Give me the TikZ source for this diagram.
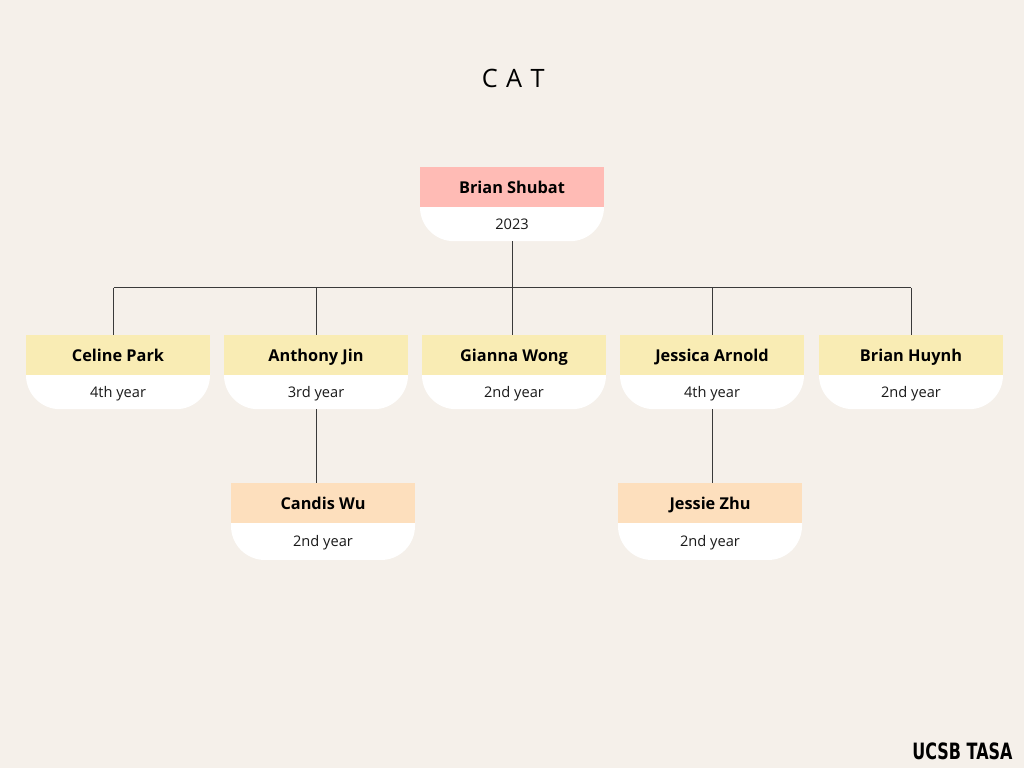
\documentclass[tikz,border=0pt]{standalone}
\usepackage{fontspec}
\setmainfont{Open Sans}
\usetikzlibrary{calc}
\definecolor{paper}{HTML}{F5F0EA}
\definecolor{rootpink}{HTML}{FFBBB5}
\definecolor{memberyellow}{HTML}{F9ECB4}
\definecolor{littleorange}{HTML}{FDDFBD}
\definecolor{linegray}{HTML}{3A3A3A}
\tikzset{
	headbox/.style={minimum width=4.6cm, minimum height=1cm, inner sep=0pt, outer sep=0pt, text height=0.31cm, text depth=0pt, font=\fontsize{11.6}{14}\selectfont\bfseries, text=black},
	yearbox/.style={anchor=north, minimum width=4.6cm, minimum height=#1, inner sep=0pt, outer sep=0pt, text height=0.27cm, text depth=0pt, font=\fontsize{10.4}{12}\selectfont, text=black!90},
	link/.style={draw=linegray, line width=0.7pt},
}
% #1 name, #2 x, #3 y of head centre, #4 colour, #5 body height, #6 title, #7 subtitle
\def\card#1(#2,#3)#4[#5]#6#7{
	\fill[white, rounded corners=0.85cm] ($(#2,#3)+(-2.3,0.4)$) -- ($(#2,#3)+(-2.3,{-0.5-#5})$) -- ($(#2,#3)+(2.3,{-0.5-#5})$) -- ($(#2,#3)+(2.3,0.4)$) -- cycle;
	\node[headbox, fill=#4] (#1) at (#2,#3) {#6};
	\node[yearbox={#5 cm}] (#1year) at (#1.south) {#7};
}

\begin{document}
\begin{tikzpicture}
		%%%%% START %%%%%
		\useasboundingbox[fill=paper] (0, 0) rectangle (25.6, 19.2);
		
		\node[font=\fontsize{18}{22}\selectfont] (title) at (12.83, 17.25) {C\,\,A\,\,T};
		
		\card{shubat}(12.8, 14.52){rootpink}[0.85]{Brian Shubat}{2023}
		
		\card{celine}(2.95, 10.32){memberyellow}[0.85]{Celine Park}{4th year}
		\card{anthony}(7.9, 10.32){memberyellow}[0.85]{Anthony Jin}{3rd year}
		\card{gianna}(12.85, 10.32){memberyellow}[0.85]{Gianna Wong}{2nd year}
		\card{jessica}(17.8, 10.32){memberyellow}[0.85]{Jessica Arnold}{4th year}
		\card{huynh}(22.775, 10.32){memberyellow}[0.85]{Brian Huynh}{2nd year}
		
		\card{candis}(8.075, 6.62){littleorange}[0.92]{Candis Wu}{2nd year}
		\card{jessie}(17.75, 6.62){littleorange}[0.92]{Jessie Zhu}{2nd year}
		
		% the bus between the columns
		\coordinate (busceline) at (2.84, 12);
		\coordinate (busanthony) at (7.92, 12);
		\coordinate (busgianna) at (12.8, 12);
		\coordinate (busjessica) at (17.8, 12);
		\coordinate (bushuynh) at (22.78, 12);
		\draw[link] (busceline) -- (bushuynh);
		
		\draw[link] (busgianna |- shubatyear.south) -- (busgianna |- gianna.north);
		\draw[link] (busceline) -- (busceline |- celine.north);
		\draw[link] (busanthony) -- (busanthony |- anthony.north);
		\draw[link] (busjessica) -- (busjessica |- jessica.north);
		\draw[link] (bushuynh) -- (bushuynh |- huynh.north);
		
		\draw[link] (busanthony |- anthonyyear.south) -- (busanthony |- candis.north);
		\draw[link] (busjessica |- jessicayear.south) -- (busjessica |- jessie.north);
		
		\node[anchor=east, xscale=0.71, transform shape, font=\fontspec{DejaVu Sans Bold}\fontsize{16}{18}\selectfont] (logo) at (25.4, 0.42) {UCSB TASA};
		%%%%% END %%%%%
	\end{tikzpicture}
\end{document}
